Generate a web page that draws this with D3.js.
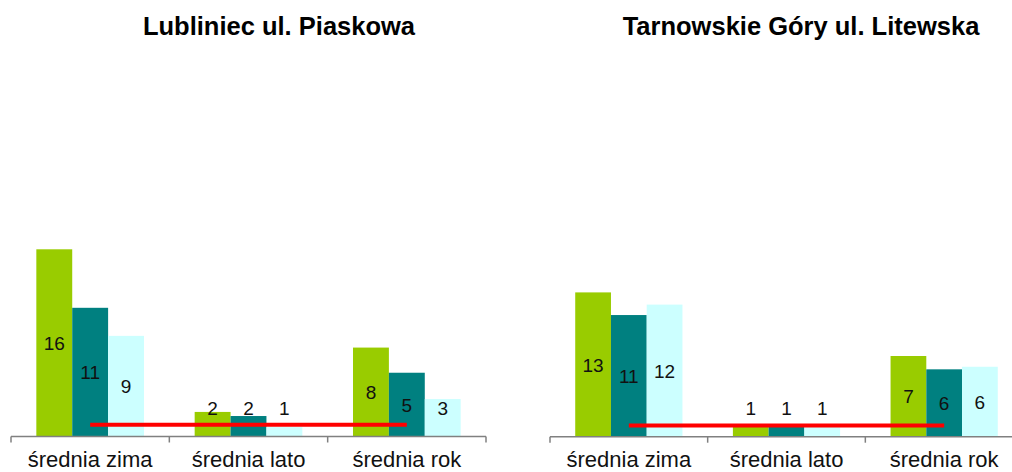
<!DOCTYPE html>
<html>
<head>
<meta charset="utf-8">
<style>
    body { margin: 0; background: #fff; }
    text { font-family: "Liberation Sans", Arial, sans-serif; }
</style>
</head>
<body>
<svg id="workspace" width="1012" height="472"></svg>

<script src="https://d3js.org/d3.v7.min.js"></script>
<script>
    const WIDTH = 1012;
    const HEIGHT = 472;

    // data
    const categories = ['średnia zima', 'średnia lato', 'średnia rok'];
    const seriesKeys = ['seria1', 'seria2', 'seria3'];
    const lublinieValues = [[16.0, 11.0, 8.6], [2.1, 1.75, 0.8], [7.6, 5.45, 3.2]];
    const tarnowskieValues = [[13.0, 10.96, 11.9], [0.9, 0.9, 1.05], [7.27, 6.07, 6.3]];
    const targetValue = 1;
    const titles = ['Lubliniec ul. Piaskowa', 'Tarnowskie Góry ul. Litewska'];

    const COLORS = ['#99CC00', '#008080', '#CCFFFF'];

    let svg = d3.select('#workspace');

    function drawPanel(values, title, opts) {
        let g = svg.append('g');

        let x0 = d3.scaleBand()
            .domain(categories)
            .range([opts.left, opts.right])
            .paddingInner(0.32)
            .paddingOuter(0.16);

        let x1 = d3.scaleBand()
            .domain(seriesKeys)
            .range([0, x0.bandwidth()]);

        let y = d3.scaleLinear()
            .domain([0, opts.yMax])
            .range([opts.base, opts.top]);

        // title
        g.append('text')
            .attr('x', opts.titleX)
            .attr('y', 34.5)
            .attr('text-anchor', 'middle')
            .style('font-size', '25.5px')
            .style('font-weight', 'bold')
            .text(title);

        let groups = g.selectAll('.grp')
            .data(categories)
            .enter().append('g')
            .attr('transform', c => `translate(${x0(c)},0)`);

        groups.selectAll('rect')
            .data((c, i) => values[i].map((v, j) => ({key: seriesKeys[j], value: v, idx: j})))
            .enter().append('rect')
            .attr('x', d => x1(d.key))
            .attr('y', d => y(d.value))
            .attr('width', x1.bandwidth())
            .attr('height', d => opts.base - y(d.value))
            .attr('fill', d => COLORS[d.idx]);

        // axis with ticks between categories
        let axis = d3.axisBottom(x0).tickSize(0).tickFormat('');
        let axG = g.append('g')
            .attr('transform', `translate(0,${opts.base})`)
            .call(axis);
        axG.select('.domain').remove();
        axG.append('line')
            .attr('x1', opts.left).attr('x2', opts.right)
            .attr('y1', 0).attr('y2', 0)
            .attr('stroke', '#808080').attr('stroke-width', 1.5);
        let edges = categories.map(c => x0(c) - x0.step() * x0.paddingOuter());
        edges.push(opts.right);
        axG.selectAll('.sep')
            .data(edges)
            .enter().append('line')
            .attr('x1', d => d).attr('x2', d => d)
            .attr('y1', 0).attr('y2', 6)
            .attr('stroke', '#808080').attr('stroke-width', 1.5);

        // target line from first to last category centre
        let lineFn = d3.line()
            .x(c => x0(c) + x0.bandwidth() / 2)
            .y(() => y(targetValue));
        g.append('path')
            .datum([categories[0], categories[categories.length - 1]])
            .attr('d', lineFn)
            .attr('fill', 'none')
            .attr('stroke', '#FF0000')
            .attr('stroke-width', 4);

        // value labels
        groups.selectAll('.lbl')
            .data((c, i) => values[i].map((v, j) => ({key: seriesKeys[j], value: v})))
            .enter().append('text')
            .attr('x', d => x1(d.key) + x1.bandwidth() / 2)
            .attr('y', d => {
                let mid = (y(d.value) + opts.base) / 2;
                return Math.min(mid, opts.base - 29) + 7;
            })
            .attr('text-anchor', 'middle')
            .style('font-size', '19px')
            .attr('fill', '#111')
            .text(d => Math.round(d.value));

        // category labels
        g.selectAll('.cat')
            .data(categories)
            .enter().append('text')
            .attr('x', c => x0(c) + x0.bandwidth() / 2)
            .attr('y', 467)
            .attr('text-anchor', 'middle')
            .style('font-size', '22px')
            .attr('fill', '#111')
            .text(c => c);
    }

    drawPanel(lublinieValues, titles[0],
        {left: 11, right: 486, base: 436.5, top: 62.1, yMax: 32, titleX: 279});
    drawPanel(tarnowskieValues, titles[1],
        {left: 550, right: 1023, base: 436.7, top: 59.3, yMax: 34, titleX: 801});
</script>
</body>
</html>
